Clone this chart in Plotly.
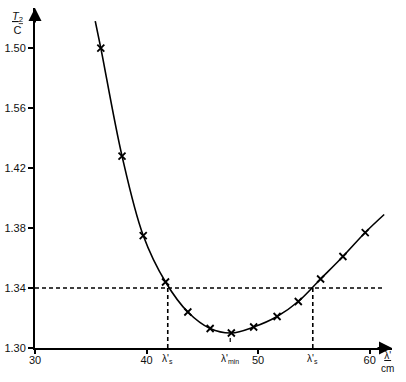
import plotly.graph_objects as go

# data
lam = [35.9, 37.8, 39.7, 41.7, 43.7, 45.7, 47.6, 49.6, 51.7, 53.6, 55.6, 57.6, 59.6]
t2c = [1.500, 1.428, 1.375, 1.344, 1.324, 1.313, 1.310, 1.314, 1.321, 1.331, 1.346, 1.361, 1.377]
curve_lam = [35.4] + lam + [61.3]
curve_t2c = [1.518] + t2c + [1.389]
level = 1.34
lam_s = [41.9, 54.9]
lam_min = 47.5
x_ticks = [30, 40, 50, 60]
y_ticks = [1.30, 1.34, 1.38, 1.42, 1.46, 1.50]
y_ticktext = ["1.30", "1.34", "1.38", "1.42", "1.56", "1.50"]

font = dict(family="Liberation Sans, Arial, sans-serif", size=11, color="#111")

fig = go.Figure()
fig.add_trace(go.Scatter(x=curve_lam, y=curve_t2c, mode="lines",
                         line=dict(color="black", width=1.6, shape="spline", smoothing=1.0), hoverinfo="skip"))
fig.add_trace(go.Scatter(x=lam, y=t2c, mode="markers",
                         marker=dict(symbol="x-thin", size=7, line=dict(color="black", width=1.8))))
fig.add_trace(go.Scatter(x=[30, 61.2], y=[level, level], mode="lines",
                         line=dict(color="black", width=1.6, dash="4px,3px")))
for xs in lam_s:
    fig.add_trace(go.Scatter(x=[xs, xs], y=[1.30, level], mode="lines",
                             line=dict(color="black", width=1.6, dash="4px,3px")))
fig.add_trace(go.Scatter(x=[lam_min, lam_min], y=[1.3040, 1.3067], mode="lines",
                         line=dict(color="black", width=1.2)))

fig.update_layout(
    width=406, height=382,
    margin=dict(l=35, r=14, t=8, b=34, autoexpand=False),
    paper_bgcolor="white", plot_bgcolor="white",
    showlegend=False, font=font,
    xaxis=dict(range=[30, 62], tickvals=x_ticks, showgrid=False, zeroline=False, automargin=False,
               showline=True, linecolor="black", linewidth=2, ticks="outside", ticklen=4, tickwidth=1.5,
               tickcolor="black", tickfont=font, ticklabelstandoff=-3),
    yaxis=dict(range=[1.30, 1.5267], tickvals=y_ticks, ticktext=y_ticktext, showgrid=False, zeroline=False,
               automargin=False,
               showline=True, linecolor="black", linewidth=2, ticks="outside", ticklen=5, tickwidth=1.5,
               tickcolor="black", tickfont=font),
)

# axis arrows
fig.add_annotation(x=62, y=1.30, xref="x", yref="y", ax=-16, ay=0, text="", showarrow=True,
                   arrowhead=2, arrowsize=1.3, arrowwidth=2, arrowcolor="black")
fig.add_annotation(x=30, y=1.5267, xref="x", yref="y", ax=0, ay=16, text="", showarrow=True,
                   arrowhead=2, arrowsize=1.3, arrowwidth=2, arrowcolor="black")

# lambda labels under axis
for xs in lam_s:
    fig.add_annotation(x=xs, y=0, xref="x", yref="paper", yanchor="top", yshift=-3, text="λ'<sub>s</sub>",
                       showarrow=False, font=dict(family=font["family"], size=10, color="#111"))
fig.add_annotation(x=lam_min, y=0, xref="x", yref="paper", yanchor="top", yshift=-3, text="λ'<sub>min</sub>",
                   showarrow=False, font=dict(family=font["family"], size=10, color="#111"))

# axis titles as fractions
fig.add_annotation(x=1.0, y=0, xref="paper", yref="paper", xanchor="center", yanchor="middle",
                   xshift=-5, yshift=-14, text="<u>λ'</u><br>cm", showarrow=False, align="center",
                   font=dict(family=font["family"], size=10, color="#111"))
fig.add_annotation(x=0, y=1, xref="paper", yref="paper", xanchor="center", yanchor="middle",
                   xshift=-18, yshift=-15, text="<u><i>T</i><sub>2</sub></u><br>C", showarrow=False, align="center",
                   font=dict(family=font["family"], size=11, color="#111"))

fig.write_html("out.html", config={"displayModeBar": False},
               post_script="document.body.style.margin='0';")
